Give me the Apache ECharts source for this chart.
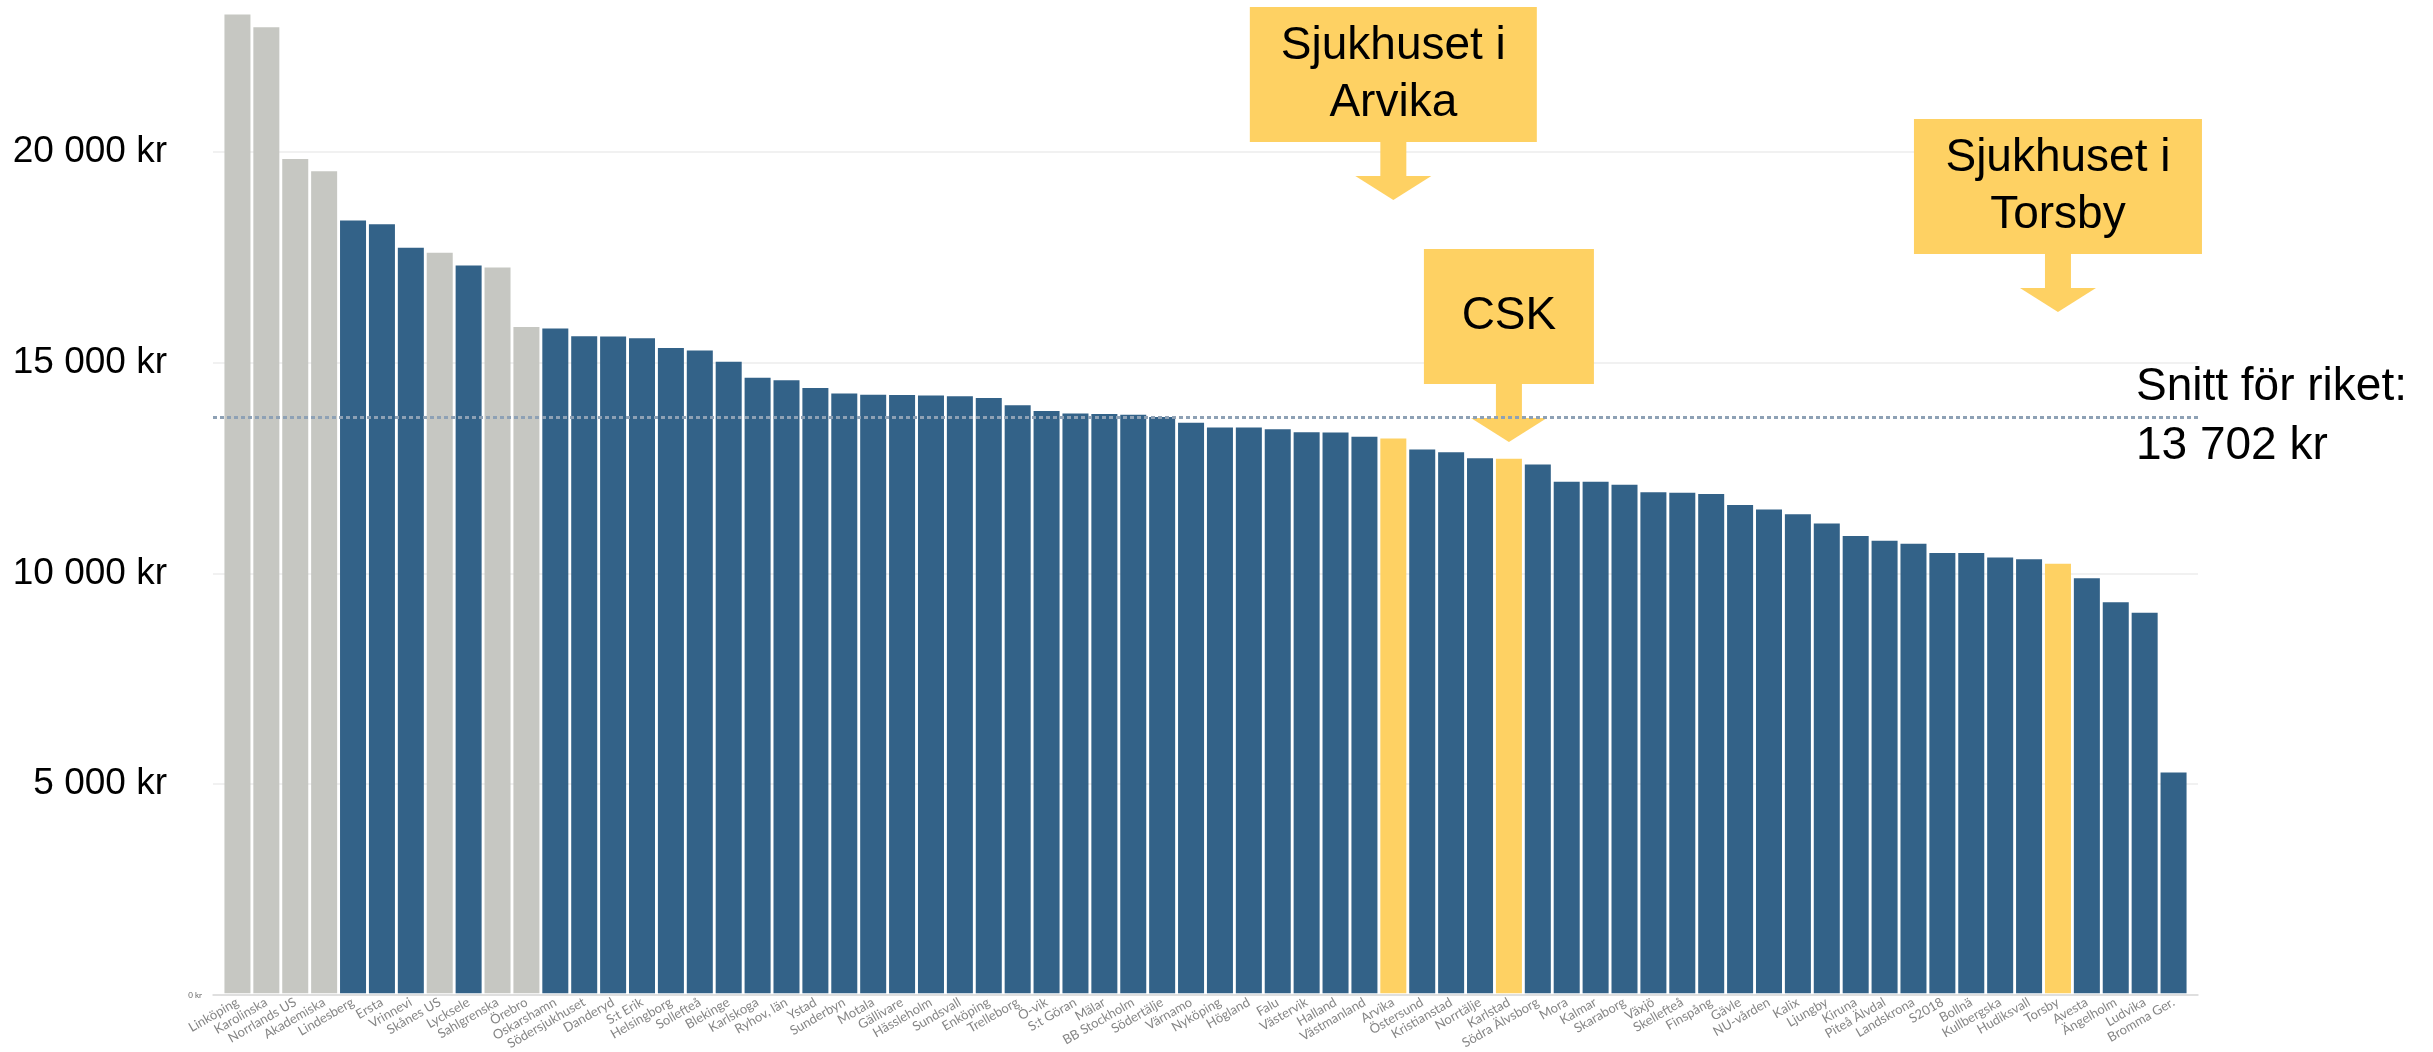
<!DOCTYPE html>
<html>
<head>
<meta charset="utf-8">
<script src="https://cdn.jsdelivr.net/npm/echarts@6/dist/echarts.min.js"></script>
<style>
  html, body { margin: 0; padding: 0; background: #fff; }
  #chart { width: 2433px; height: 1052px; }
</style>
</head>
<body>
<div id="chart"></div>
<script>
// sjukhus, sorterade efter kostnad (kr)
var sjukhus = ['Linköping','Karolinska','Norrlands US','Akademiska','Lindesberg','Ersta','Vrinnevi','Skånes US','Lycksele','Sahlgrenska',
  'Örebro','Oskarshamn','Södersjukhuset','Danderyd','S:t Erik','Helsingborg','Sollefteå','Blekinge','Karlskoga','Ryhov, län',
  'Ystad','Sunderbyn','Motala','Gällivare','Hässleholm','Sundsvall','Enköping','Trelleborg','Ö-vik','S:t Göran',
  'Mälar','BB Stockholm','Södertälje','Värnamo','Nyköping','Högland','Falu','Västervik','Halland','Västmanland',
  'Arvika','Östersund','Kristianstad','Norrtälje','Karlstad','Södra Älvsborg','Mora','Kalmar','Skaraborg','Växjö',
  'Skellefteå','Finspång','Gävle','NU-vården','Kalix','Ljungby','Kiruna','Piteå Älvdal','Landskrona','S2018',
  'Bollnä','Kullbergska','Hudiksvall','Torsby','Avesta','Ängelholm','Ludvika','Bromma Ger.'];
var kostnad = [23250,22950,19820,19530,18360,18270,17710,17590,17290,17240,
  15830,15790,15610,15600,15560,15330,15270,15000,14620,14560,
  14380,14250,14220,14210,14200,14180,14140,13970,13830,13770,
  13760,13740,13690,13550,13440,13440,13400,13330,13320,13220,
  13180,12920,12850,12710,12700,12560,12150,12150,12080,11900,
  11890,11860,11600,11490,11380,11160,10860,10750,10680,10460,
  10460,10350,10310,10200,9860,9290,9040,5240];
var universitetssjukhus = ['Linköping','Karolinska','Norrlands US','Akademiska','Skånes US','Sahlgrenska','Örebro'];
var markerade = ['Arvika','Karlstad','Torsby'];
var snittRiket = 13702;
var yTicks = [0, 5000, 10000, 15000, 20000];

// pilar
var pilNamn = ['Arvika','Karlstad','Torsby'];
var pilText = ['Sjukhuset i\nArvika','CSK','Sjukhuset i\nTorsby'];

var GRA = '#c6c7c2', BLA = '#336288', GUL = '#fed163';

function kr(v) {
  return String(v).replace(/\B(?=(\d{3})+(?!\d))/g, ' ') + ' kr';
}

var staplar = sjukhus.map(function (n, i) {
  var c = BLA;
  if (universitetssjukhus.indexOf(n) >= 0) c = GRA;
  if (markerade.indexOf(n) >= 0) c = GUL;
  return { value: kostnad[i], itemStyle: { color: c } };
});

var chart = echarts.init(document.getElementById('chart'));
var option = {
  animation: false,
  backgroundColor: '#fff',
  grid: [
    { left: 213, right: 235, top: 4.1, bottom: 57 },
    { left: 223, right: 245, top: 4.1, bottom: 57 }
  ],
  xAxis: [
    {
      type: 'category', gridIndex: 0, data: [''],
      axisLine: { show: true, lineStyle: { color: '#d9d9d9', width: 1.5 } },
      axisTick: { show: false }, axisLabel: { show: false }
    },
    {
      type: 'category', gridIndex: 1, data: sjukhus,
      axisLine: { show: false }, axisTick: { show: false },
      axisLabel: {
        interval: 0, rotate: 30, margin: 8,
        fontSize: 13, fontFamily: 'Lato', color: '#858585'
      }
    }
  ],
  yAxis: [
    {
      type: 'value', gridIndex: 0, min: 0, max: 23500, interval: 5000,
      axisLine: { show: false }, axisTick: { show: false },
      splitLine: { show: true, lineStyle: { color: ['#ececec','#ececec','#ececec','#ececec','#ececec','rgba(0,0,0,0)'], width: 1.5 } },
      axisLabel: {
        showMaxLabel: false, margin: 11,
        formatter: function (v) {
          if (v === 0) return '{s|0 kr}';
          if (yTicks.indexOf(v) < 0) return '';
          return '{b|' + kr(v) + '}';
        },
        rich: {
          s: { fontSize: 8, fontFamily: 'Lato', color: '#666' },
          b: { fontSize: 37, fontFamily: 'Liberation Sans', color: '#000', padding: [0, 35, 0, 0] }
        }
      }
    },
    {
      type: 'value', gridIndex: 1, min: 0, max: 23500, interval: 5000,
      show: false, splitLine: { show: false }
    }
  ],
  series: [
    {
      type: 'line', xAxisIndex: 0, yAxisIndex: 0, data: [],
      markLine: {
        silent: true, symbol: 'none', label: { show: false },
        lineStyle: { color: '#8ea1b5', width: 3, type: [4, 3] },
        data: [{ yAxis: snittRiket }]
      }
    },
    {
      type: 'bar', xAxisIndex: 1, yAxisIndex: 1,
      barCategoryGap: '10%',
      data: staplar
    }
  ]
};
chart.setOption(option);

// pilrutor
var rutor = [
  { w: 287, top: 7 },
  { w: 170, top: 249 },
  { w: 288, top: 119 }
];
var grafik = [];
pilNamn.forEach(function (n, i) {
  var cx = chart.convertToPixel({ xAxisIndex: 1 }, n);
  var r = rutor[i];
  var h = 135;
  var bot = r.top + h;
  grafik.push({ type: 'rect', shape: { x: cx - r.w / 2, y: r.top, width: r.w, height: h }, style: { fill: GUL } });
  grafik.push({ type: 'rect', shape: { x: cx - 13, y: bot - 1, width: 26, height: 36 }, style: { fill: GUL } });
  grafik.push({ type: 'polygon', shape: { points: [[cx - 38, bot + 34], [cx + 38, bot + 34], [cx, bot + 58]] }, style: { fill: GUL } });
  grafik.push({
    type: 'text', x: cx, y: r.top + h / 2,
    style: { text: pilText[i], fontSize: 46, fontFamily: 'Liberation Sans', fill: '#000', align: 'center', verticalAlign: 'middle', lineHeight: 57 }
  });
});
var ySnitt = chart.convertToPixel({ yAxisIndex: 0 }, snittRiket);
grafik.push({
  type: 'text', x: 2136, y: ySnitt,
  style: { text: 'Snitt för riket:\n' + kr(snittRiket), fontSize: 46, fontFamily: 'Liberation Sans', fill: '#000', align: 'left', verticalAlign: 'middle', lineHeight: 59 }
});
chart.setOption({ graphic: grafik });
</script>
</body>
</html>
